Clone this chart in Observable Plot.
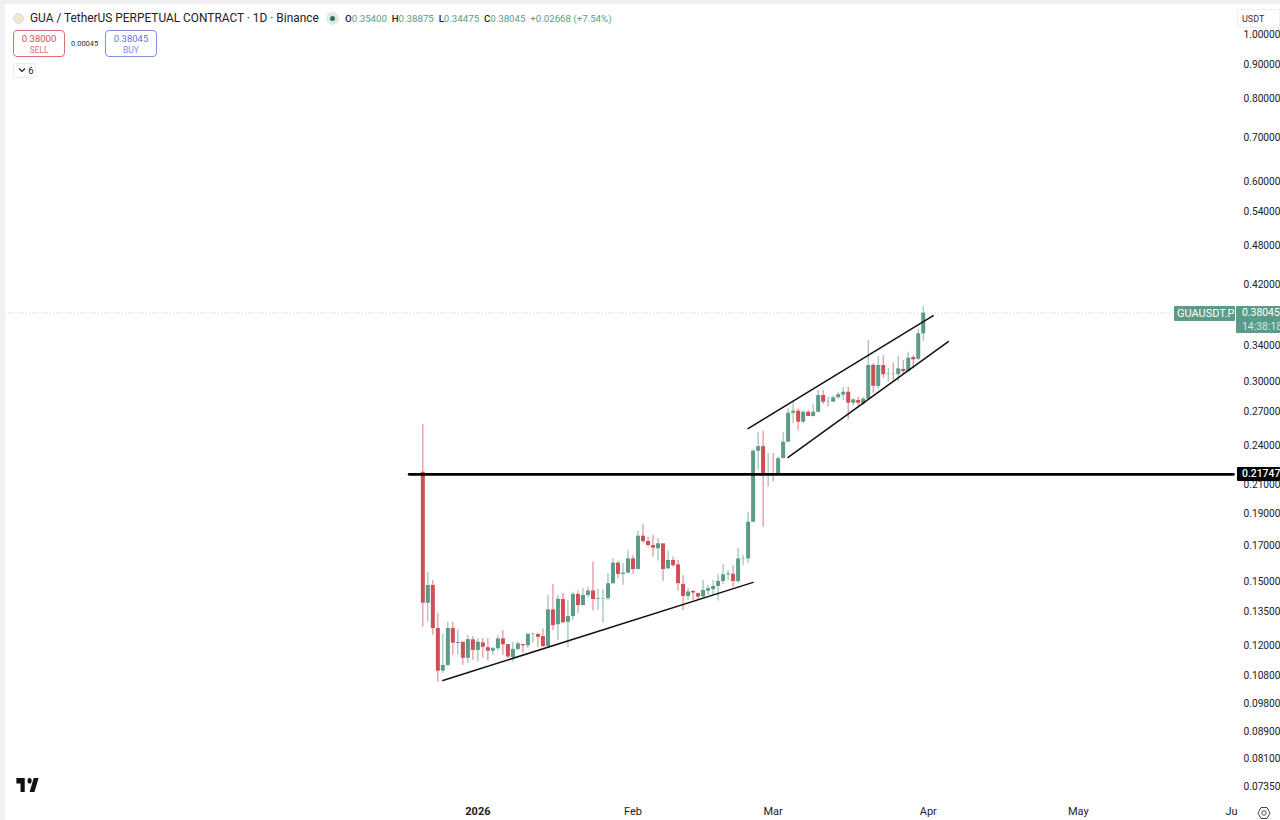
<!DOCTYPE html>
<html>
<head>
<meta charset="utf-8">
<script src="https://cdn.jsdelivr.net/npm/d3@7"></script>
<script src="https://cdn.jsdelivr.net/npm/@observablehq/plot@0.6"></script>
<style>
html,body{margin:0;padding:0;background:#fff;overflow:hidden}
#wrap{position:relative;width:1280px;height:820px;overflow:hidden;font-family:Roboto,"Noto Sans",sans-serif;color:#222}
#wrap > svg{display:block}
.abs{position:absolute;white-space:nowrap;box-sizing:border-box}
.box{border-radius:4px;background:#fff;text-align:center;line-height:1}
.tag{color:#fff;font-size:10.4px;padding-left:3px}
</style>
</head>
<body>
<div id="wrap"></div>
<script>
const firstDay = new Date(Date.UTC(2025, 11, 21));
const opens = [
.2190,.1391,.1479,.1274,.1099,.1121,.1274,.1210,.1215,.1149,
.1225,.1181,.1212,.1192,.1178,.1188,.1229,.1205,.1152,.1185,
.1205,.1200,.1250,.1248,.1239,.1197,.1359,.1291,.1409,.1302,
.1328,.1434,.1380,.1429,.1451,.1410,.1409,.1413,.1488,.1598,
.1537,.1544,.1622,.1563,.1755,.1723,.1699,.1680,.1709,.1567,
.1613,.1589,.1485,.1424,.1449,.1438,.1421,.1450,.1458,.1474,
.1500,.1535,.1538,.1500,.1622,.1622,.1842,.2356,.2394,.2166,
.2179,.2179,.2296,.2431,.2688,.2707,.2606,.2697,.2658,.2697,
.2858,.2793,.2793,.2836,.2862,.2891,.2783,.2809,.2777,.2822,
.3172,.2949,.3172,.3073,.3077,.3073,.3128,.3106,.3260,.3242,
.35400];
const closes = [
.1391,.1479,.1274,.1099,.1121,.1274,.1211,.1214,.1149,.1226,
.1181,.1215,.1194,.1178,.1188,.1229,.1204,.1154,.1185,.1208,
.1200,.1249,.1252,.1236,.1197,.1359,.1287,.1410,.1300,.1328,
.1434,.1380,.1429,.1451,.1409,.1413,.1411,.1488,.1598,.1537,
.1544,.1622,.1563,.1755,.1723,.1699,.1684,.1709,.1563,.1613,
.1585,.1488,.1424,.1446,.1441,.1421,.1454,.1463,.1474,.1500,
.1535,.1540,.1500,.1622,.1624,.1842,.2356,.2394,.2166,.2179,
.2169,.2296,.2431,.2688,.2707,.2606,.2697,.2658,.2697,.2858,
.2793,.2796,.2836,.2868,.2891,.2783,.2816,.2783,.2822,.3172,
.2952,.3172,.3073,.3077,.3073,.3136,.3106,.3253,.3235,.3540,
.38045];
const highs = [
.2585,.1547,.1505,.1342,.1248,.1302,.1302,.1269,.1215,.1243,
.1239,.1231,.1231,.1231,.1193,.1243,.1265,.1206,.1215,.1214,
.1206,.1252,.1253,.1253,.1272,.1429,.1485,.1429,.1439,.1404,
.1445,.1451,.1464,.1469,.1604,.1459,.1459,.1542,.1624,.1609,
.1596,.1670,.1641,.1786,.1828,.1749,.1759,.1741,.1709,.1666,
.1632,.1613,.1531,.1464,.1454,.1441,.1505,.1479,.1505,.1537,
.1591,.1558,.1585,.1682,.1641,.1907,.2372,.2516,.2525,.2338,
.2338,.2309,.2516,.2729,.2809,.2729,.2713,.2713,.2771,.2908,
.2908,.2842,.2858,.2891,.2936,.2942,.2826,.2842,.2842,.3458,
.3195,.3272,.3283,.3139,.3197,.3272,.3227,.3321,.3283,.3595,
.38875];
const lows = [
.1280,.1302,.1243,.1058,.1091,.1115,.1161,.1161,.1121,.1129,
.1141,.1134,.1149,.1138,.1161,.1178,.1161,.1149,.1134,.1178,
.1169,.1189,.1210,.1192,.1192,.1192,.1265,.1222,.1296,.1192,
.1310,.1342,.1378,.1419,.1353,.1356,.1298,.1404,.1485,.1514,
.1479,.1540,.1537,.1563,.1711,.1689,.1632,.1609,.1500,.1563,
.1576,.1450,.1356,.1404,.1404,.1404,.1413,.1429,.1429,.1401,
.1485,.1505,.1469,.1490,.1585,.1596,.1842,.2204,.1811,.2080,
.2117,.2174,.2296,.2431,.2591,.2531,.2594,.2658,.2652,.2697,
.2771,.2745,.2793,.2826,.2809,.2627,.2751,.2732,.2761,.2822,
.2879,.2925,.3031,.2990,.3010,.2993,.3063,.3098,.3139,.3227,
.34475];

const priceTicks = [1,.9,.8,.7,.6,.54,.48,.42,.34,.3,.27,.24,.21,.19,.17,.15,.135,.12,.108,.098,.089,.081,.0735];
const monthTicks = [[2026,1,"Feb"],[2026,2,"Mar"],[2026,3,"Apr"],[2026,4,"May"]];
const clippedTick = [2026,5,"Ju"];
const yearTick = [2026,0,"2026"];
const lastPrice = 0.38045, levelPrice = 0.21747;
const d = (m, day) => new Date(Date.UTC(m < 6 ? 2026 : 2025, m, day));
const supportLine = [{t:d(11,25),p:.1064},{t:d(1,25),p:.1495}];
const channelUpper = [{t:d(1,24),p:.2549},{t:d(3,2),p:.3772}];
const channelLower = [{t:d(2,4),p:.2306},{t:d(3,5),p:.3446}];
const levelLine = [{t:new Date(Date.UTC(2025,11,18,6)),p:levelPrice},{t:new Date(Date.UTC(2026,5,1)),p:levelPrice}];

const GREEN = "#5b9b88", RED = "#cf4e58";
const candles = opens.map((o,i)=>({t:d3.utcDay.offset(firstDay,i),o,c:closes[i],h:highs[i],l:lows[i]}));
const col = r => r.c >= r.o ? GREEN : RED;
const tickDate = ([y,m]) => new Date(Date.UTC(y,m,1));
const labelOf = new Map(monthTicks.map(k=>[+tickDate(k),k[2]]));

const plot = Plot.plot({
  width:1280, height:820,
  marginLeft:5, marginRight:45, marginTop:8, marginBottom:25,
  style:{fontFamily:"Roboto, 'Noto Sans', sans-serif", fontSize:"11px", color:"#222", background:"transparent"},
  x:{type:"utc", domain:[new Date(Date.UTC(2025,8,28,14,24)), new Date(Date.UTC(2026,5,1,9,36))]},
  y:{type:"log", domain:[0.0714,1.094]},
  marks:[
    Plot.axisY(priceTicks,{anchor:"right",tickSize:0,tickPadding:8,tickFormat:d3.format(".5f"),label:null,fontSize:10.2}),
    Plot.axisX(monthTicks.map(tickDate),{anchor:"bottom",tickSize:0,tickPadding:12,tickFormat:v=>labelOf.get(+v),label:null,fontSize:11}),
    Plot.axisX([tickDate(clippedTick)],{anchor:"bottom",tickSize:0,tickPadding:12,tickFormat:()=>clippedTick[2],label:null,fontSize:11,dx:-2}),
    Plot.axisX([tickDate(yearTick)],{anchor:"bottom",tickSize:0,tickPadding:12,tickFormat:()=>yearTick[2],label:null,fontSize:11,fontWeight:"bold"}),
    Plot.ruleY([lastPrice],{stroke:"#c9d6d0",strokeDasharray:"1,2",strokeWidth:1}),
    Plot.ruleX(candles,{x:"t",y1:"l",y2:"h",stroke:col,strokeWidth:1,strokeOpacity:.75}),
    Plot.ruleX(candles,{x:"t",y1:"o",y2:"c",stroke:col,strokeWidth:4}),
    Plot.line(levelLine,{x:"t",y:"p",stroke:"#000",strokeWidth:2.6}),
    Plot.line(supportLine,{x:"t",y:"p",stroke:"#111",strokeWidth:1.5}),
    Plot.line(channelUpper,{x:"t",y:"p",stroke:"#111",strokeWidth:1.5}),
    Plot.line(channelLower,{x:"t",y:"p",stroke:"#111",strokeWidth:1.5})
  ]
});
const wrap = document.getElementById("wrap");
wrap.appendChild(plot);
const yS = plot.scale("y");
function add(css, html){const e=document.createElement("div");e.className="abs";e.style.cssText=css;e.innerHTML=html||"";wrap.appendChild(e);return e;}

// chrome
add("left:0;top:0;width:5px;height:820px;background:#f0f1f3");
add("left:0;top:0;width:1280px;height:4px;background:#eceef0");
add("left:1237px;top:9px;width:43px;height:19px;background:#fff;border:1px solid #f0f0f0;font-size:9px;padding:4px 0 0 4px;color:#333","USDT");

// header
add("left:13px;top:13px;width:11px;height:11px;border-radius:50%;background:#efe6d6;border:1px solid #e6dcc8");
add("left:30px;top:11px;font-size:11.9px;color:#222;line-height:15px","GUA / TetherUS PERPETUAL CONTRACT · 1D · Binance");
add("left:326px;top:12px;width:13px;height:13px;border-radius:50%;background:#dcebe6");
add("left:330px;top:16px;width:5px;height:5px;border-radius:50%;background:#2e6f5d");
const ohlcGreen = "#5b9b88";
add(`left:345px;top:12px;font-size:9.7px;line-height:13px;color:${ohlcGreen}`,
  `<b style="color:#222;font-weight:500">O</b>0.35400 <b style="color:#222;font-weight:500">&nbsp;H</b>0.38875 <b style="color:#222;font-weight:500">&nbsp;L</b>0.34475 <b style="color:#222;font-weight:500">&nbsp;C</b>0.38045 &nbsp;+0.02668 (+7.54%)`);
add("left:13px;top:30px;width:52px;height:27px;border:1px solid #d9717a;padding-top:3px;color:#cf4e58;font-size:9.5px","0.38000<div style='font-size:8.5px;margin-top:2px;color:#d9717a'>SELL</div>").classList.add("box");
add("left:71px;top:39px;font-size:7.5px;color:#333;line-height:9px","0.00045");
add("left:105px;top:30px;width:52px;height:27px;border:1px solid #7f8fe6;padding-top:3px;color:#5f74e0;font-size:9.5px","0.38045<div style='font-size:8.5px;margin-top:2px;color:#7f8fe6'>BUY</div>").classList.add("box");
add("left:13px;top:63px;width:23px;height:15px;border:1px solid #ececec;border-radius:3px;font-size:9.5px;line-height:13px;padding-left:4px",
  `<svg width="8" height="6" viewBox="0 0 8 6" style="vertical-align:1px"><path d="M1 1.5 L4 4.5 L7 1.5" fill="none" stroke="#222" stroke-width="1.2"/></svg> 6`);

// price tags, placed through the price scale
const yLast = yS.apply(lastPrice), yLevel = yS.apply(levelPrice);
add(`left:1174px;top:${yLast-7}px;width:61px;height:15px;background:${GREEN};line-height:15px;border-radius:1px;font-size:11px`,"GUAUSDT.P").classList.add("tag");
add(`left:1236px;top:${yLast-7}px;width:44px;height:27px;background:${GREEN};line-height:14px;border-radius:1px 0 0 1px;padding-left:6px`,"0.38045<div style='color:#d5e7e1'>14:38:18</div>").classList.add("tag");
add(`left:1237px;top:${yLevel-7}px;width:43px;height:14px;background:#000;line-height:14px;font-weight:500;padding-left:5px;border-radius:1px`,"0.21747").classList.add("tag");

// logo and settings
add("left:15px;top:777px;width:25px;height:14px",`<svg width="25" height="14" viewBox="0 6 36 15" preserveAspectRatio="none"><path fill="#111" d="M14 6H2v6h6v9h6V6zm14 15h-7l6-15h7l-6 15zm-7-9a3 3 0 1 1 0-6 3 3 0 0 1 0 6z"/></svg>`);
add("left:1257px;top:805px;width:14px;height:14px",`<svg width="14" height="14" viewBox="0 0 14 14"><path d="M4 1.5h6L13 7l-3 5.5H4L1 7z" fill="none" stroke="#444" stroke-width="1"/><circle cx="7" cy="7" r="2.2" fill="none" stroke="#444" stroke-width="1"/></svg>`);
</script>
</body>
</html>
